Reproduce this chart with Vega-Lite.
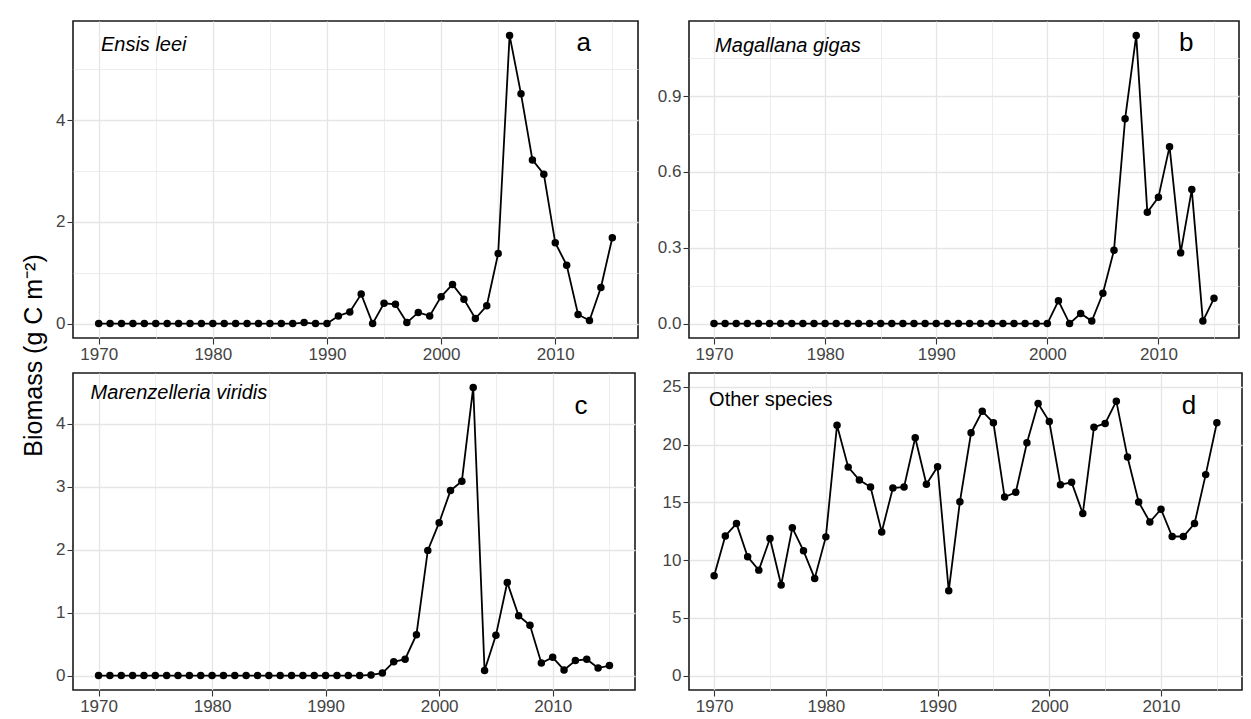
{
  "$schema": "https://vega.github.io/schema/vega-lite/v6.json",
  "background": "#ffffff",
  "padding": {"left": 20, "top": 20, "right": 13, "bottom": 10},
  "datasets": {
    "ensis": [
      {"year": 1970, "biomass": 0}, {"year": 1971, "biomass": 0}, {"year": 1972, "biomass": 0}, {"year": 1973, "biomass": 0},
      {"year": 1974, "biomass": 0}, {"year": 1975, "biomass": 0}, {"year": 1976, "biomass": 0}, {"year": 1977, "biomass": 0},
      {"year": 1978, "biomass": 0}, {"year": 1979, "biomass": 0}, {"year": 1980, "biomass": 0}, {"year": 1981, "biomass": 0},
      {"year": 1982, "biomass": 0}, {"year": 1983, "biomass": 0}, {"year": 1984, "biomass": 0}, {"year": 1985, "biomass": 0},
      {"year": 1986, "biomass": 0}, {"year": 1987, "biomass": 0}, {"year": 1988, "biomass": 0.02}, {"year": 1989, "biomass": 0},
      {"year": 1990, "biomass": 0}, {"year": 1991, "biomass": 0.15}, {"year": 1992, "biomass": 0.23}, {"year": 1993, "biomass": 0.58},
      {"year": 1994, "biomass": 0}, {"year": 1995, "biomass": 0.4}, {"year": 1996, "biomass": 0.38}, {"year": 1997, "biomass": 0.02},
      {"year": 1998, "biomass": 0.22}, {"year": 1999, "biomass": 0.15}, {"year": 2000, "biomass": 0.53}, {"year": 2001, "biomass": 0.77},
      {"year": 2002, "biomass": 0.48}, {"year": 2003, "biomass": 0.1}, {"year": 2004, "biomass": 0.35}, {"year": 2005, "biomass": 1.38},
      {"year": 2006, "biomass": 5.67}, {"year": 2007, "biomass": 4.52}, {"year": 2008, "biomass": 3.22}, {"year": 2009, "biomass": 2.94},
      {"year": 2010, "biomass": 1.59}, {"year": 2011, "biomass": 1.15}, {"year": 2012, "biomass": 0.18}, {"year": 2013, "biomass": 0.06},
      {"year": 2014, "biomass": 0.71}, {"year": 2015, "biomass": 1.69}
    ],
    "magallana": [
      {"year": 1970, "biomass": 0}, {"year": 1971, "biomass": 0}, {"year": 1972, "biomass": 0}, {"year": 1973, "biomass": 0},
      {"year": 1974, "biomass": 0}, {"year": 1975, "biomass": 0}, {"year": 1976, "biomass": 0}, {"year": 1977, "biomass": 0},
      {"year": 1978, "biomass": 0}, {"year": 1979, "biomass": 0}, {"year": 1980, "biomass": 0}, {"year": 1981, "biomass": 0},
      {"year": 1982, "biomass": 0}, {"year": 1983, "biomass": 0}, {"year": 1984, "biomass": 0}, {"year": 1985, "biomass": 0},
      {"year": 1986, "biomass": 0}, {"year": 1987, "biomass": 0}, {"year": 1988, "biomass": 0}, {"year": 1989, "biomass": 0},
      {"year": 1990, "biomass": 0}, {"year": 1991, "biomass": 0}, {"year": 1992, "biomass": 0}, {"year": 1993, "biomass": 0},
      {"year": 1994, "biomass": 0}, {"year": 1995, "biomass": 0}, {"year": 1996, "biomass": 0}, {"year": 1997, "biomass": 0},
      {"year": 1998, "biomass": 0}, {"year": 1999, "biomass": 0}, {"year": 2000, "biomass": 0}, {"year": 2001, "biomass": 0.09},
      {"year": 2002, "biomass": 0}, {"year": 2003, "biomass": 0.04}, {"year": 2004, "biomass": 0.01}, {"year": 2005, "biomass": 0.12},
      {"year": 2006, "biomass": 0.29}, {"year": 2007, "biomass": 0.81}, {"year": 2008, "biomass": 1.14}, {"year": 2009, "biomass": 0.44},
      {"year": 2010, "biomass": 0.5}, {"year": 2011, "biomass": 0.7}, {"year": 2012, "biomass": 0.28}, {"year": 2013, "biomass": 0.53},
      {"year": 2014, "biomass": 0.01}, {"year": 2015, "biomass": 0.1}
    ],
    "marenzelleria": [
      {"year": 1970, "biomass": 0}, {"year": 1971, "biomass": 0}, {"year": 1972, "biomass": 0}, {"year": 1973, "biomass": 0},
      {"year": 1974, "biomass": 0}, {"year": 1975, "biomass": 0}, {"year": 1976, "biomass": 0}, {"year": 1977, "biomass": 0},
      {"year": 1978, "biomass": 0}, {"year": 1979, "biomass": 0}, {"year": 1980, "biomass": 0}, {"year": 1981, "biomass": 0},
      {"year": 1982, "biomass": 0}, {"year": 1983, "biomass": 0}, {"year": 1984, "biomass": 0}, {"year": 1985, "biomass": 0},
      {"year": 1986, "biomass": 0}, {"year": 1987, "biomass": 0}, {"year": 1988, "biomass": 0}, {"year": 1989, "biomass": 0},
      {"year": 1990, "biomass": 0}, {"year": 1991, "biomass": 0}, {"year": 1992, "biomass": 0}, {"year": 1993, "biomass": 0},
      {"year": 1994, "biomass": 0.01}, {"year": 1995, "biomass": 0.04}, {"year": 1996, "biomass": 0.22}, {"year": 1997, "biomass": 0.26},
      {"year": 1998, "biomass": 0.65}, {"year": 1999, "biomass": 1.99}, {"year": 2000, "biomass": 2.43}, {"year": 2001, "biomass": 2.94},
      {"year": 2002, "biomass": 3.09}, {"year": 2003, "biomass": 4.58}, {"year": 2004, "biomass": 0.08}, {"year": 2005, "biomass": 0.64},
      {"year": 2006, "biomass": 1.48}, {"year": 2007, "biomass": 0.95}, {"year": 2008, "biomass": 0.8}, {"year": 2009, "biomass": 0.2},
      {"year": 2010, "biomass": 0.29}, {"year": 2011, "biomass": 0.09}, {"year": 2012, "biomass": 0.24}, {"year": 2013, "biomass": 0.26},
      {"year": 2014, "biomass": 0.12}, {"year": 2015, "biomass": 0.16}
    ],
    "other": [
      {"year": 1970, "biomass": 8.64}, {"year": 1971, "biomass": 12.09}, {"year": 1972, "biomass": 13.16}, {"year": 1973, "biomass": 10.28},
      {"year": 1974, "biomass": 9.13}, {"year": 1975, "biomass": 11.87}, {"year": 1976, "biomass": 7.84}, {"year": 1977, "biomass": 12.79},
      {"year": 1978, "biomass": 10.8}, {"year": 1979, "biomass": 8.41}, {"year": 1980, "biomass": 12.01}, {"year": 1981, "biomass": 21.68},
      {"year": 1982, "biomass": 18.05}, {"year": 1983, "biomass": 16.93}, {"year": 1984, "biomass": 16.33}, {"year": 1985, "biomass": 12.44},
      {"year": 1986, "biomass": 16.24}, {"year": 1987, "biomass": 16.33}, {"year": 1988, "biomass": 20.59}, {"year": 1989, "biomass": 16.56},
      {"year": 1990, "biomass": 18.09}, {"year": 1991, "biomass": 7.34}, {"year": 1992, "biomass": 15.06}, {"year": 1993, "biomass": 21.02},
      {"year": 1994, "biomass": 22.89}, {"year": 1995, "biomass": 21.89}, {"year": 1996, "biomass": 15.46}, {"year": 1997, "biomass": 15.87},
      {"year": 1998, "biomass": 20.16}, {"year": 1999, "biomass": 23.56}, {"year": 2000, "biomass": 22.0}, {"year": 2001, "biomass": 16.53},
      {"year": 2002, "biomass": 16.73}, {"year": 2003, "biomass": 14.03}, {"year": 2004, "biomass": 21.51}, {"year": 2005, "biomass": 21.83},
      {"year": 2006, "biomass": 23.76}, {"year": 2007, "biomass": 18.92}, {"year": 2008, "biomass": 15.03}, {"year": 2009, "biomass": 13.3},
      {"year": 2010, "biomass": 14.4}, {"year": 2011, "biomass": 12.04}, {"year": 2012, "biomass": 12.04}, {"year": 2013, "biomass": 13.16},
      {"year": 2014, "biomass": 17.4}, {"year": 2015, "biomass": 21.89}
    ]
  },
  "columns": 2,
  "align": "none",
  "bounds": "flush",
  "spacing": {"row": 35, "column": 51},
  "concat": [
    {
      "width": 565, "height": 317,
      "layer": [
        {
          "data": {"name": "ensis"},
          "encoding": {
            "x": {"field": "year", "type": "quantitative",
              "scale": {"domain": [1967.75, 2017.25], "nice": false, "zero": false},
              "axis": {"title": null, "format": "d", "values": [1970, 1975, 1980, 1985, 1990, 1995, 2000, 2005, 2010, 2015],
                "labelExpr": "datum.value % 10 === 0 ? datum.label : ''",
                "tickOpacity": {"condition": {"test": "datum.value % 10 === 0", "value": 1}, "value": 0},
                "gridWidth": {"condition": {"test": "datum.value % 10 === 0", "value": 1.3}, "value": 0.7}}},
            "y": {"field": "biomass", "type": "quantitative",
              "scale": {"domain": [-0.2835, 5.9535], "nice": false, "zero": false},
              "axis": {"title": "Biomass (g C m⁻²)", "titleX": -27, "titleY": 334, "titleFontSize": 25, "titleFontWeight": "normal", "titleColor": "#000000", "titleFont": "Liberation Sans",
                "format": "d", "values": [0, 1, 2, 3, 4, 5],
                "labelExpr": "datum.value % 2 === 0 ? datum.label : ''",
                "tickOpacity": {"condition": {"test": "datum.value % 2 === 0", "value": 1}, "value": 0},
                "gridWidth": {"condition": {"test": "datum.value % 2 === 0", "value": 1.3}, "value": 0.7}}}
          },
          "layer": [
            {"mark": {"type": "line", "color": "#000000", "strokeWidth": 1.8}},
            {"mark": {"type": "point", "filled": true, "color": "#000000", "opacity": 1, "size": 56}}
          ]
        },
        {"data": {"values": [{"label": "Ensis leei"}]},
         "mark": {"type": "text", "fontStyle": "italic", "fontSize": 20, "align": "left", "baseline": "alphabetic"},
         "encoding": {"text": {"field": "label"}, "x": {"datum": 1970.2, "type": "quantitative"}, "y": {"datum": 5.36, "type": "quantitative"}}},
        {"data": {"values": [{"label": "a"}]},
         "mark": {"type": "text", "fontSize": 26, "align": "center", "baseline": "alphabetic"},
         "encoding": {"text": {"field": "label"}, "x": {"datum": 2012.5, "type": "quantitative"}, "y": {"datum": 5.36, "type": "quantitative"}}}
      ]
    },
    {
      "width": 550, "height": 317,
      "layer": [
        {
          "data": {"name": "magallana"},
          "encoding": {
            "x": {"field": "year", "type": "quantitative",
              "scale": {"domain": [1967.75, 2017.25], "nice": false, "zero": false},
              "axis": {"title": null, "format": "d", "values": [1970, 1975, 1980, 1985, 1990, 1995, 2000, 2005, 2010, 2015],
                "labelExpr": "datum.value % 10 === 0 ? datum.label : ''",
                "tickOpacity": {"condition": {"test": "datum.value % 10 === 0", "value": 1}, "value": 0},
                "gridWidth": {"condition": {"test": "datum.value % 10 === 0", "value": 1.3}, "value": 0.7}}},
            "y": {"field": "biomass", "type": "quantitative",
              "scale": {"domain": [-0.057, 1.197], "nice": false, "zero": false},
              "axis": {"title": null, "format": ".1f",
                "values": [0, 0.15, 0.3, 0.45, 0.6, 0.75, 0.9, 1.05],
                "labelExpr": "round(datum.value * 100) % 30 === 0 ? datum.label : ''",
                "tickOpacity": {"condition": {"test": "round(datum.value * 100) % 30 === 0", "value": 1}, "value": 0},
                "gridWidth": {"condition": {"test": "round(datum.value * 100) % 30 === 0", "value": 1.3}, "value": 0.7}}}
          },
          "layer": [
            {"mark": {"type": "line", "color": "#000000", "strokeWidth": 1.8}},
            {"mark": {"type": "point", "filled": true, "color": "#000000", "opacity": 1, "size": 56}}
          ]
        },
        {"data": {"values": [{"label": "Magallana gigas"}]},
         "mark": {"type": "text", "fontStyle": "italic", "fontSize": 20, "align": "left", "baseline": "alphabetic"},
         "encoding": {"text": {"field": "label"}, "x": {"datum": 1970.1, "type": "quantitative"}, "y": {"datum": 1.076, "type": "quantitative"}}},
        {"data": {"values": [{"label": "b"}]},
         "mark": {"type": "text", "fontSize": 26, "align": "center", "baseline": "alphabetic"},
         "encoding": {"text": {"field": "label"}, "x": {"datum": 2012.5, "type": "quantitative"}, "y": {"datum": 1.078, "type": "quantitative"}}}
      ]
    },
    {
      "width": 562, "height": 317,
      "layer": [
        {
          "data": {"name": "marenzelleria"},
          "encoding": {
            "x": {"field": "year", "type": "quantitative",
              "scale": {"domain": [1967.75, 2017.25], "nice": false, "zero": false},
              "axis": {"title": null, "format": "d", "values": [1970, 1975, 1980, 1985, 1990, 1995, 2000, 2005, 2010, 2015],
                "labelExpr": "datum.value % 10 === 0 ? datum.label : ''",
                "tickOpacity": {"condition": {"test": "datum.value % 10 === 0", "value": 1}, "value": 0},
                "gridWidth": {"condition": {"test": "datum.value % 10 === 0", "value": 1.3}, "value": 0.7}}},
            "y": {"field": "biomass", "type": "quantitative",
              "scale": {"domain": [-0.229, 4.809], "nice": false, "zero": false},
              "axis": {"title": null, "format": "d",
                "values": [0, 0.5, 1, 1.5, 2, 2.5, 3, 3.5, 4, 4.5],
                "labelExpr": "datum.value % 1 === 0 ? datum.label : ''",
                "tickOpacity": {"condition": {"test": "datum.value % 1 === 0", "value": 1}, "value": 0},
                "gridWidth": {"condition": {"test": "datum.value % 1 === 0", "value": 1.3}, "value": 0.7}}}
          },
          "layer": [
            {"mark": {"type": "line", "color": "#000000", "strokeWidth": 1.8}},
            {"mark": {"type": "point", "filled": true, "color": "#000000", "opacity": 1, "size": 56}}
          ]
        },
        {"data": {"values": [{"label": "Marenzelleria viridis"}]},
         "mark": {"type": "text", "fontStyle": "italic", "fontSize": 20, "align": "left", "baseline": "alphabetic"},
         "encoding": {"text": {"field": "label"}, "x": {"datum": 1969.3, "type": "quantitative"}, "y": {"datum": 4.39, "type": "quantitative"}}},
        {"data": {"values": [{"label": "c"}]},
         "mark": {"type": "text", "fontSize": 26, "align": "center", "baseline": "alphabetic"},
         "encoding": {"text": {"field": "label"}, "x": {"datum": 2012.5, "type": "quantitative"}, "y": {"datum": 4.15, "type": "quantitative"}}}
      ]
    },
    {
      "width": 553, "height": 317,
      "layer": [
        {
          "data": {"name": "other"},
          "encoding": {
            "x": {"field": "year", "type": "quantitative",
              "scale": {"domain": [1967.75, 2017.25], "nice": false, "zero": false},
              "axis": {"title": null, "format": "d", "values": [1970, 1975, 1980, 1985, 1990, 1995, 2000, 2005, 2010, 2015],
                "labelExpr": "datum.value % 10 === 0 ? datum.label : ''",
                "tickOpacity": {"condition": {"test": "datum.value % 10 === 0", "value": 1}, "value": 0},
                "gridWidth": {"condition": {"test": "datum.value % 10 === 0", "value": 1.3}, "value": 0.7}}},
            "y": {"field": "biomass", "type": "quantitative",
              "scale": {"domain": [-1.25, 26.2], "nice": false, "zero": false},
              "axis": {"title": null, "format": "d",
                "values": [0, 2.5, 5, 7.5, 10, 12.5, 15, 17.5, 20, 22.5, 25],
                "labelExpr": "datum.value % 5 === 0 ? datum.label : ''",
                "tickOpacity": {"condition": {"test": "datum.value % 5 === 0", "value": 1}, "value": 0},
                "gridWidth": {"condition": {"test": "datum.value % 5 === 0", "value": 1.3}, "value": 0.7}}}
          },
          "layer": [
            {"mark": {"type": "line", "color": "#000000", "strokeWidth": 1.8}},
            {"mark": {"type": "point", "filled": true, "color": "#000000", "opacity": 1, "size": 56}}
          ]
        },
        {"data": {"values": [{"label": "Other species"}]},
         "mark": {"type": "text", "fontSize": 20, "align": "left", "baseline": "alphabetic"},
         "encoding": {"text": {"field": "label"}, "x": {"datum": 1969.55, "type": "quantitative"}, "y": {"datum": 23.38, "type": "quantitative"}}},
        {"data": {"values": [{"label": "d"}]},
         "mark": {"type": "text", "fontSize": 26, "align": "center", "baseline": "alphabetic"},
         "encoding": {"text": {"field": "label"}, "x": {"datum": 2012.5, "type": "quantitative"}, "y": {"datum": 22.67, "type": "quantitative"}}}
      ]
    }
  ],
  "config": {
    "font": "Liberation Sans",
    "view": {"stroke": "#1a1a1a", "strokeWidth": 1.6, "fill": "#ffffff"},
    "axis": {
      "domain": false,
      "labelFont": "Liberation Sans",
      "labelFontSize": 17,
      "labelColor": "#444444",
      "tickColor": "#333333",
      "tickWidth": 1.1,
      "tickSize": 6,
      "labelPadding": 2,
      "gridColor": "#e5e5e5",
      "labelOverlap": false,
      "labelFlush": false
    },
    "text": {"font": "Liberation Sans", "color": "#000000"}
  }
}
